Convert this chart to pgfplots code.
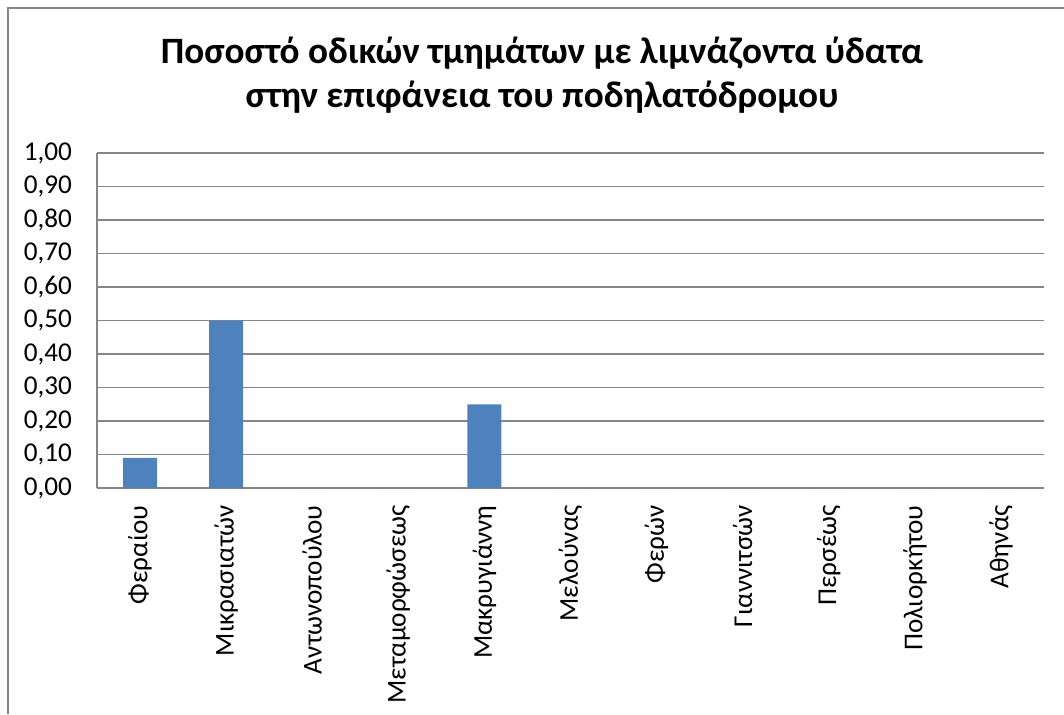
\documentclass[border=0pt]{standalone}
\usepackage{fontspec}
\setmainfont{Carlito}
\usepackage{pgfplots}
\pgfplotsset{compat=1.18}
\definecolor{barblue}{HTML}{4F81BD}
\definecolor{gridgray}{HTML}{868686}
\begin{document}
\begin{tikzpicture}
\useasboundingbox (0,0) rectangle (532pt,357pt);
% chart frame (only left and top edges visible)
\draw[gridgray, line width=1pt] (4pt,0) -- (4pt,353pt) -- (532pt,353pt);
% title
\node[font=\bfseries\fontsize{18.6}{22}\selectfont, anchor=base]
  at (271pt,325pt) {Ποσοστό οδικών τμημάτων με λιμνάζοντα ύδατα};
\node[font=\bfseries\fontsize{18.6}{22}\selectfont, anchor=base]
  at (271pt,303pt) {στην επιφάνεια του ποδηλατόδρομου};
\begin{axis}[
  at={(48.5pt,113pt)}, anchor=south west,
  scale only axis,
  width=473.5pt, height=167.5pt,
  ymin=0, ymax=1,
  ytick={0,0.1,...,1.01},
  xmin=-0.5, xmax=10.5,
  xtick={0,...,10},
  xticklabels={Φεραίου,Μικρασιατών,Αντωνοπούλου,Μεταμορφώσεως,Μακρυγιάννη,Μελούνας,Φερών,Γιαννιτσών,Περσέως,Πολιορκήτου,Αθηνάς},
  x tick label style={rotate=90, anchor=east, inner sep=0pt},
  xticklabel shift=8.5pt,
  yticklabel shift=9pt,
  tick label style={font=\fontsize{13.6}{16}\selectfont},
  /pgf/number format/.cd, fixed, fixed zerofill, precision=2, use comma, assume math mode=true,
  /pgfplots/.cd,
  major tick length=0pt,
  axis x line*=bottom, axis y line*=left,
  axis line style={draw=gridgray, line width=0.9pt, -},
  ymajorgrids,
  grid style={draw=gridgray, line width=0.75pt},
  ybar, bar width=17pt,
]
\addplot[fill=barblue, draw=none] coordinates {
  (0,0.09) (1,0.50) (2,0) (3,0) (4,0.25) (5,0) (6,0) (7,0) (8,0) (9,0) (10,0)
};
\end{axis}
\end{tikzpicture}
\end{document}
